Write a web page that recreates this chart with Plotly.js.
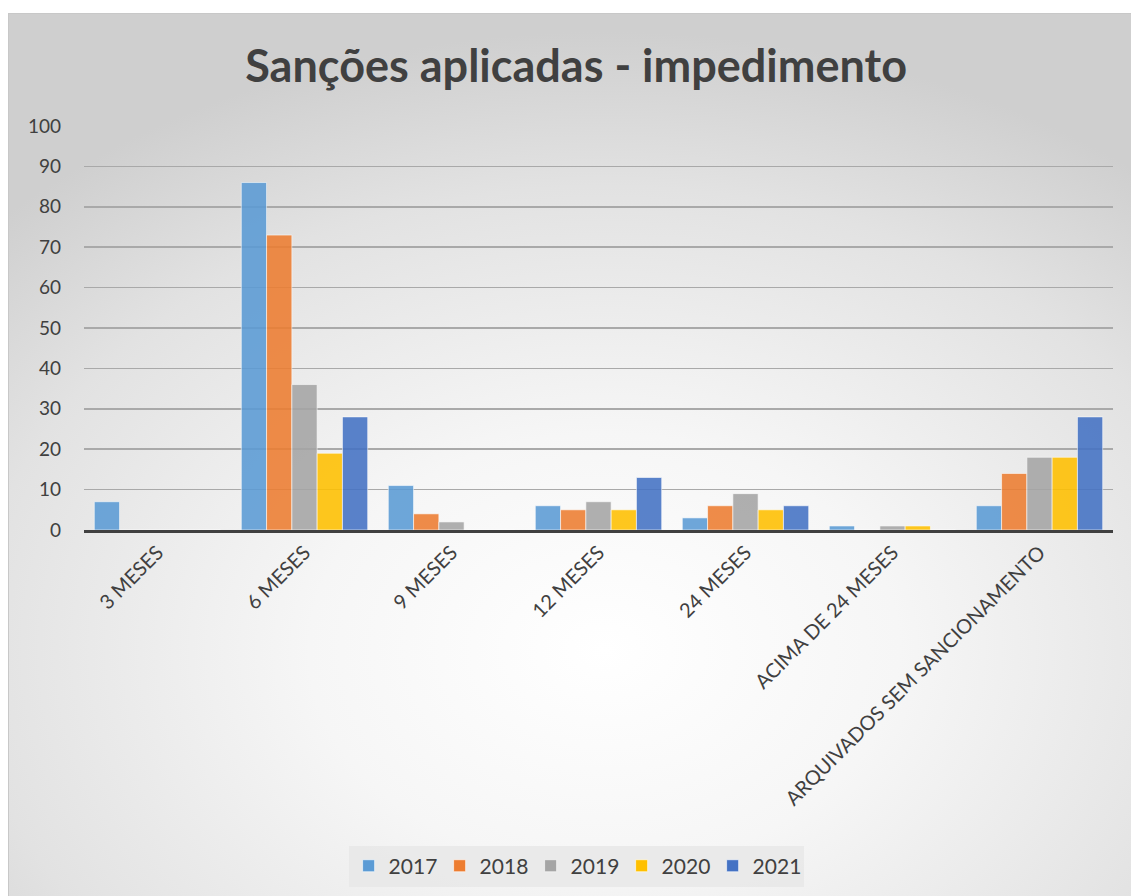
<!DOCTYPE html>
<html>
<head>
<meta charset="utf-8">
<script src="https://cdn.plot.ly/plotly-3.0.1.min.js"></script>
<style>
  html, body { margin:0; padding:0; background:#ffffff; width:1131px; height:896px; overflow:hidden; }
  #frame { position:absolute; left:8px; top:13px; width:1123px; height:883px;
           background: radial-gradient(ellipse 75% 70% at 53% 72%, #ffffff 0%, #f6f6f6 35%, #e2e2e2 75%, #cfcfcf 100%);
           border-top:1px solid #c8c8c8; border-left:1px solid #c8c8c8; }
  #chart { width:1123px; height:883px; }
</style>
</head>
<body>
<div id="frame"><div id="chart"></div></div>
<script>
const categories = ["3 MESES", "6 MESES", "9 MESES", "12 MESES", "24 MESES", "ACIMA DE 24 MESES", "ARQUIVADOS SEM SANCIONAMENTO"];
const years = ["2017", "2018", "2019", "2020", "2021"];
const v2017 = [7, 86, 11, 6, 3, 1, 6];
const v2018 = [0, 73, 4, 5, 6, 0, 14];
const v2019 = [0, 36, 2, 7, 9, 1, 18];
const v2020 = [0, 19, 0, 5, 5, 1, 18];
const v2021 = [0, 28, 0, 13, 6, 0, 28];
const yTicks = [0, 10, 20, 30, 40, 50, 60, 70, 80, 90, 100];
const colors = ["#5B9BD5", "#ED7D31", "#A5A5A5", "#FFC000", "#4472C4"];

const series = [v2017, v2018, v2019, v2020, v2021];
const traces = series.map((vals, i) => ({
  type: "bar",
  name: years[i],
  x: categories,
  y: vals,
  marker: { color: colors[i], opacity: 0.88, line: { color: "rgba(255,255,255,0.6)", width: 1 } },
  hoverinfo: "x+y+name"
}));

const layout = {
  width: 1123, height: 883,
  paper_bgcolor: "rgba(0,0,0,0)",
  plot_bgcolor: "rgba(0,0,0,0)",
  font: { family: "Lato, 'Open Sans', sans-serif", color: "#404040" },
  title: { text: "<b>Sanções aplicadas - impedimento</b>", font: { size: 45, color: "#404040", family: "Lato, 'Open Sans', sans-serif" },
           x: 0.505, xanchor: "center", y: 0.941, yanchor: "middle", yref: "container" },
  margin: { l: 75, r: 19, t: 112, b: 367 },
  barmode: "group",
  bargap: 0.14,
  bargroupgap: 0,
  xaxis: {
    tickangle: -45,
    tickfont: { size: 20, color: "#404040" },
    showline: true, linecolor: "#404040", linewidth: 3,
    showgrid: false, ticks: "", automargin: false
  },
  yaxis: {
    range: [0, 100], tickvals: yTicks, ticktext: yTicks.map(String),
    tickfont: { size: 19, color: "#404040" },
    showgrid: true, gridcolor: "#a9a9a9", gridwidth: 1.5,
    zeroline: false, showline: false, ticks: "", ticklabelstandoff: 22, automargin: false
  },
  showlegend: true,
  legend: {
    orientation: "h", x: 0.505, xanchor: "center", xref: "container",
    y: 0.035, yanchor: "middle", yref: "container",
    bgcolor: "rgba(232,232,232,0.85)",
    font: { size: 21, color: "#404040" },
    entrywidth: 46, entrywidthmode: "pixels",
    itemwidth: 30, traceorder: "normal"
  }
};

Plotly.newPlot("chart", traces, layout, { displayModeBar: false, staticPlot: true });
</script>
</body>
</html>
